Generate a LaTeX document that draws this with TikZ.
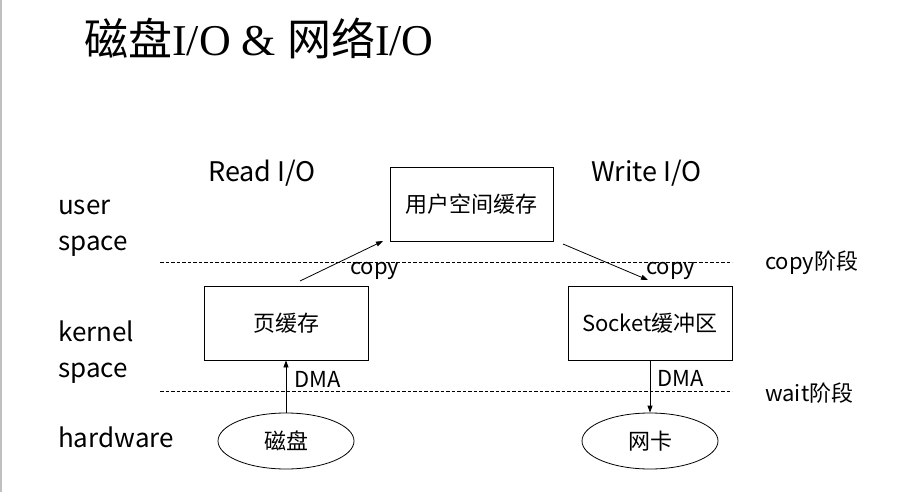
\documentclass[tikz,border=0pt]{standalone}
\usepackage{fontspec}
\setmainfont{Noto Sans CJK SC}
\newfontfamily\titlelatin{Liberation Serif}
\usetikzlibrary{shapes.geometric,arrows.meta}
\tikzset{
  lbl/.style={inner sep=0pt, anchor=west, align=left, font=\fontsize{26}{36}\selectfont},
  small/.style={inner sep=0pt, font=\fontsize{22}{26}\selectfont},
  boxnode/.style={draw, line width=0.8pt, minimum width=164pt, minimum height=74pt, inner sep=0pt, font=\fontsize{22}{26}\selectfont},
  ellnode/.style={draw, ellipse, line width=0.8pt, minimum width=136pt, minimum height=56pt, inner sep=0pt, font=\fontsize{22}{26}\selectfont},
  sep/.style={line width=0.7pt, dash pattern=on 3.5pt off 2pt},
  arr/.style={line width=0.8pt, -{Triangle[length=7pt,width=5pt]}}
}
\begin{document}
\begin{tikzpicture}[x=1pt,y=-1pt]
\useasboundingbox (0,0) rectangle (897,492);
\fill[white] (0,0) rectangle (897,492);
\draw[line width=1.5pt, color=black!25] (0.75,0) -- (0.75,492);
% title
\node[inner sep=0pt, anchor=west, font=\fontsize{44}{48}\selectfont] (title) at (84,38) {磁盘{\titlelatin I/O \& }网络{\titlelatin I/O}};
% side labels
\node[lbl] (user) at (58,228) {user\\space};
\node[lbl] (kernel) at (58,352) {kernel\\space};
\node[lbl] (hw) at (58,437) {hardware};
\node[lbl, font=\fontsize{27}{36}\selectfont] (read) at (208,173) {Read I/O};
\node[lbl, font=\fontsize{27}{36}\selectfont] (write) at (591,173) {Write I/O};
% separators
\coordinate (d1a) at (160,262);
\coordinate (d1b) at (732,262);
\coordinate (d2a) at (160,391);
\coordinate (d2b) at (732,391);
\draw[sep] (d1a) -- (d1b);
\draw[sep] (d2a) -- (d2b);
\node[small, anchor=west] (copyphase) at (765,263) {copy阶段};
\node[small, anchor=west] (waitphase) at (765,393) {wait阶段};
% boxes
\node[boxnode, minimum width=163pt] (ub) at (471.5,204) {用户空间缓存};
\node[boxnode] (pc) at (286,323) {页缓存};
\node[boxnode] (sb) at (650,323) {Socket缓冲区};
\node[ellnode] (disk) at (286,441) {磁盘};
\node[ellnode] (nic) at (650,441) {网卡};
% arrows
\coordinate (c1s) at (300,281);
\coordinate (c1e) at (383,241);
\coordinate (c2s) at (563,244);
\coordinate (c2e) at (648,280);
\draw[arr] (c1s) -- (c1e);
\draw[arr] (c2s) -- (c2e);
\draw[arr] (disk.north) -- (pc.south);
\draw[arr] (sb.south) -- (nic.north);
\node[small, anchor=west] (copyl) at (350,271) {copy};
\node[small, anchor=west] (copyr) at (646,271) {copy};
\node[small, anchor=west] (dmal) at (294,379) {DMA};
\node[small, anchor=west] (dmar) at (657,378) {DMA};
\end{tikzpicture}
\end{document}
